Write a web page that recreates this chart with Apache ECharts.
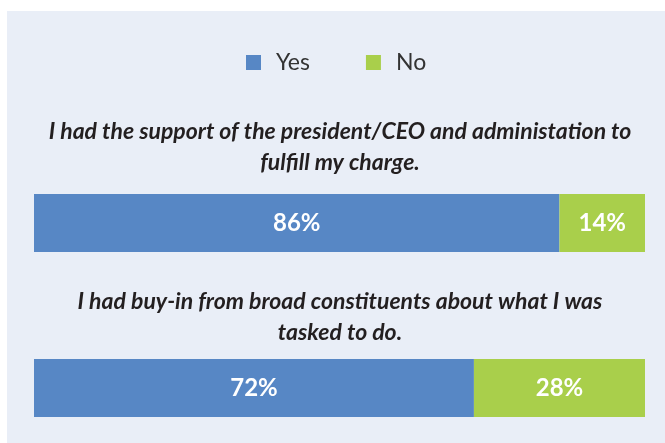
<!DOCTYPE html>
<html>
<head>
<meta charset="utf-8">
<script src="https://cdn.jsdelivr.net/npm/echarts@6/dist/echarts.min.js"></script>
<style>
  html, body { margin: 0; padding: 0; background: #ffffff; }
  #main { width: 665px; height: 443px; }
</style>
</head>
<body>
<div id="main"></div>
<script>
// survey statements, one bar each
var questions = [
  'I had the support of the president/CEO and administation to\nfulfill my charge.',
  'I had buy-in from broad constituents about what I was\ntasked to do.'
];
var yesValues = [86, 72];
var noValues = [14, 28];
var seriesNames = ['Yes', 'No'];

var chart = echarts.init(document.getElementById('main'));

var questionTops = [111, 281];
var titles = questions.map(function (q, i) {
  return {
    text: q,
    left: 335,
    textAlign: 'center',
    top: questionTops[i],
    textStyle: {
      fontFamily: 'Lato',
      fontSize: 23,
      fontWeight: 'bold',
      fontStyle: 'italic',
      color: '#231f20',
      lineHeight: 31
    }
  };
});

var labelStyle = {
  show: true,
  position: 'inside',
  formatter: '{c}%',
  color: '#ffffff',
  fontFamily: 'Lato',
  fontWeight: 'bold',
  fontSize: 24
};

chart.setOption({
  animation: false,
  backgroundColor: '#ffffff',
  graphic: [{
    type: 'rect',
    z: -10,
    shape: { x: 7, y: 11, width: 660, height: 432 },
    style: { fill: '#e9eef7' }
  }],
  title: titles,
  legend: {
    data: seriesNames,
    left: 241,
    top: 46,
    itemWidth: 15,
    itemHeight: 15,
    itemGap: 56,
    icon: 'rect',
    textStyle: { fontFamily: 'Lato', fontSize: 23, color: '#333333', padding: [0, 0, 0, 10] }
  },
  grid: { left: 34, width: 611, top: 140.5, height: 330, outerBoundsMode: 'none', containLabel: false },
  xAxis: { type: 'value', min: 0, max: 100, show: false },
  yAxis: {
    type: 'category',
    inverse: true,
    data: questions,
    show: false
  },
  series: [
    {
      name: seriesNames[0],
      type: 'bar',
      stack: 'all',
      barWidth: 58,
      data: yesValues,
      itemStyle: { color: '#5787c5' },
      label: labelStyle
    },
    {
      name: seriesNames[1],
      type: 'bar',
      stack: 'all',
      barWidth: 58,
      data: noValues,
      itemStyle: { color: '#a9cf4b' },
      label: labelStyle
    }
  ]
});
</script>
</body>
</html>
